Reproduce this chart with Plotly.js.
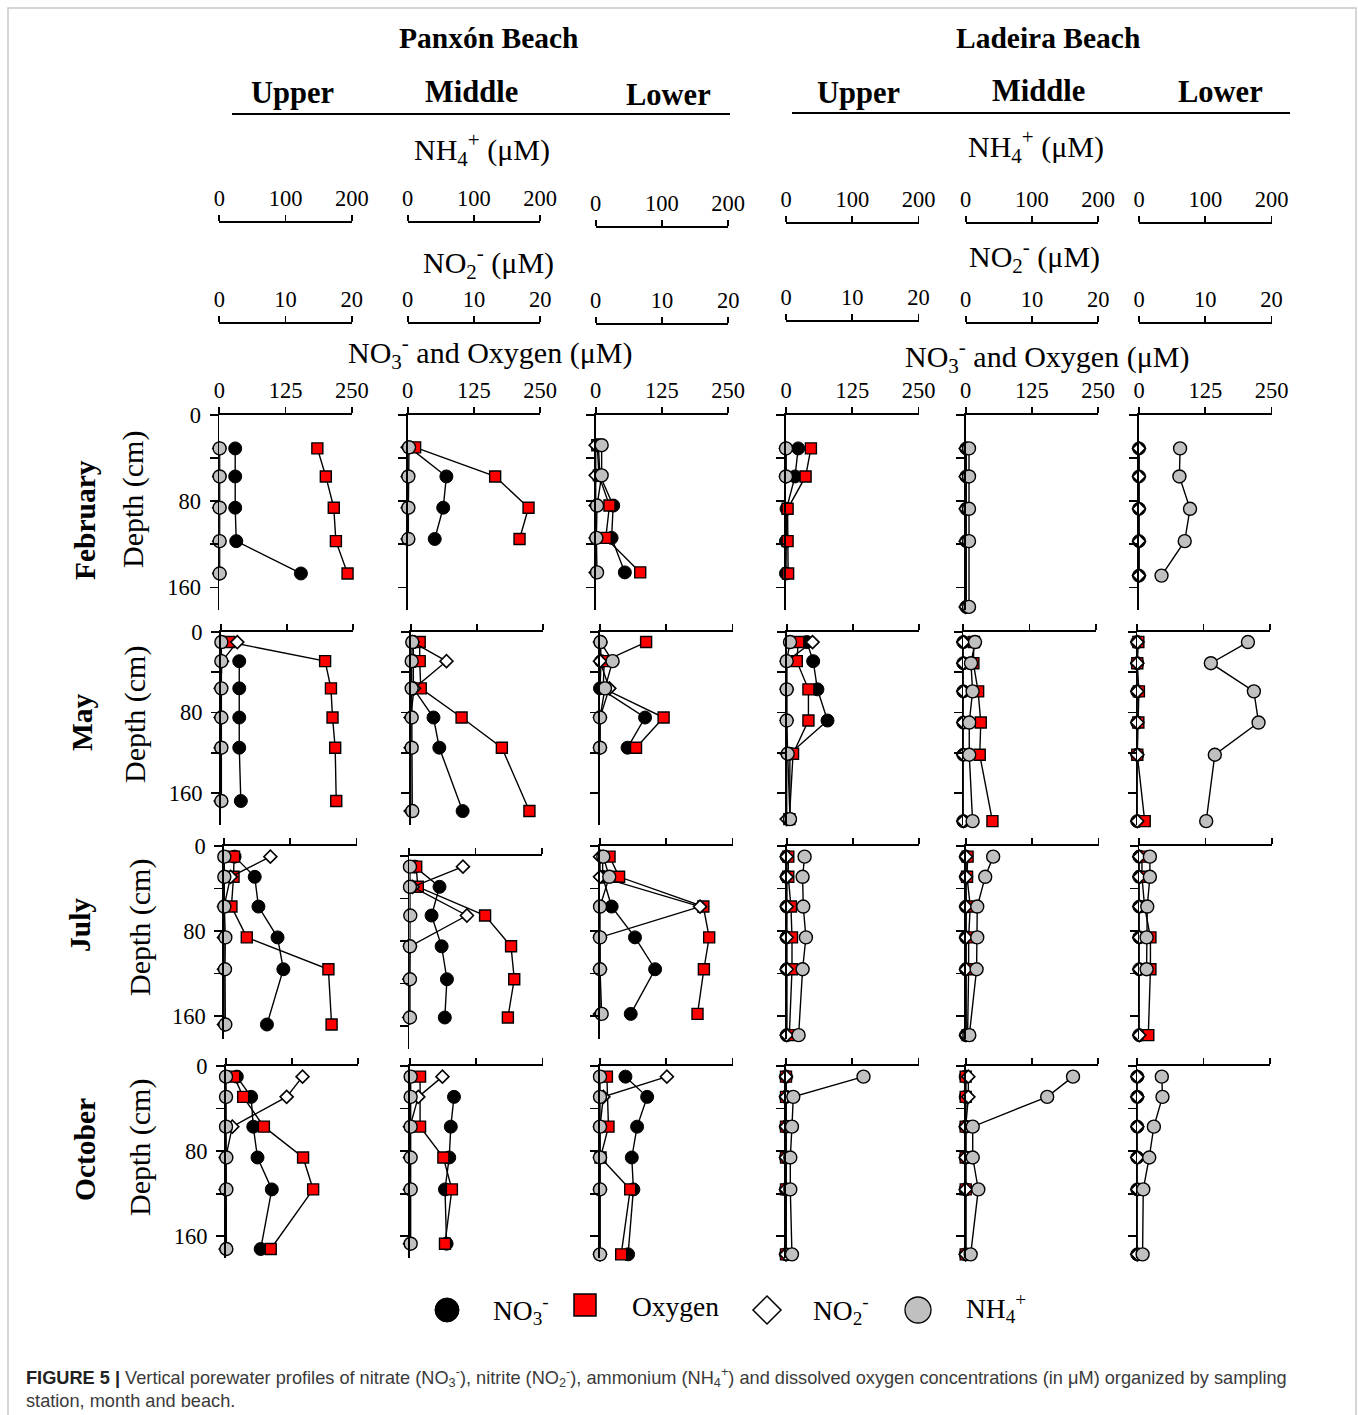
<!DOCTYPE html>
<html><head><meta charset="utf-8">
<script src="https://cdn.plot.ly/plotly-3.0.1.min.js"></script>
<style>body{margin:0;background:#fff}</style>
</head><body><div id="chart" style="width:1358px;height:1415px"></div>
<script>
// ---------- labels ----------
const months = ['February','May','July','October'];
const beaches = ['Panxón Beach','Ladeira Beach'];
const stations = ['Upper','Middle','Lower','Upper','Middle','Lower'];
const no3O2Ticks = [0,125,250];
const nh4Ticks = [0,100,200];
const no2Ticks = [0,10,20];
const depthTicks = [0,80,160];
const depthMinorStep = 40;
const legendNames = ['NO<sub>3</sub><sup>-</sup>','Oxygen','NO<sub>2</sub><sup>-</sup>','NH<sub>4</sub><sup>+</sup>'];

// ---------- data (per month, one list per station: P-Upper, P-Middle, P-Lower, L-Upper, L-Middle, L-Lower) ----------
// February
const febDepth = [[31,57,86,117,147],[30,57,86,115],[28,56,84,114,146],[31,57,87,117,147],[31,57,87,117,178],[31,57,87,117,149]];
const febNO3 = [[30,30,30,32,154],[3,73,67,51],[5,8,33,30,55],[23,17,1,0,0],[1,1,1,1,1],[0,0,0,0,0]];
const febO2  = [[185,201,216,220,242],[14,165,228,211],[3,6,26,19,84],[47,37,3,3,4],[null,null,null,null,null],[null,null,null,null,null]];
const febNO2 = [[0,0,0,0,0],[0,0,0,0],[0,0,0,0,0],[0,0,null,null,null],[0,0,0,0,0],[0,0,0,0,0]];
const febNH4 = [[0.5,0.5,0.5,0.5,0.5],[2,1,1,1],[9,9,2,1,2],[0,0,null,null,null],[5,5,5,5,5],[62,61,77,69,34]];
// May
const mayDepth = [[10,29,56,85,115,168],[10,29,56,85,115,178],[10,29,56,85,115],[10,29,57,88,121,186],[10,31,59,90,122,188],[10,31,59,90,122,188]];
const mayNO3 = [[null,35,35,35,35,38],[5,5,5,43,54,98],[1,2,0,85,52],[38,50,58,77,6,6],[0,0,0,0,0,0],[0,0,0,0,0,0]];
const mayO2  = [[16,197,208,211,216,218],[17,17,19,96,172,224],[87,8,6,120,68],[22,19,41,41,12,5],[20,19,28,33,31,55],[2,0,3,2,0,14]];
const mayNO2 = [[2.5,0.2,0,0,0,0],[0.3,5.4,0.5,0,0,0],[0,0,1.4,0,0],[3.9,0,0,0,0,0],[0,0,0,0,0,0],[0,0,0,0,0,0]];
const mayNH4 = [[1,1,1,1,1,1],[2.4,1.5,1.5,1.5,1.5,2.4],[0.7,19,7.5,0,0],[5,0,0,0,1.5,5],[17.7,11.6,14,9,9,14],[167,111,176,183,117,104]];
// July
const julDepth = [[10,29,57,86,116,168],[10,29,56,85,116,152],[10,29,57,86,116,158],[10,29,57,86,116,178],[10,29,57,86,116,178],[10,29,57,86,116,178]];
const julNO3 = [[20,58,65,101,112,81],[10,57,42,61,71,67],[5,5,22,66,104,58],[0,0,0,0,0,0],[0,0,0,0,0,0],[0,0,0,0,0,0]];
const julO2  = [[19,18,14,43,197,203],[13,16,143,192,198,186],[18,36,195,206,196,184],[3,3,8,10,10,5],[3,2,8,5,5,3],[5,5,10,21,21,17]];
const julNO2 = [[7,1,0,0,0,0],[8.1,0.5,8.7,0.1,0,0],[0,0,15.1,0,0,0],[0,0,0,0,0,0],[0,0,0,0,0,0],[0,0,0,0,0,0]];
const julNH4 = [[0.5,0.5,0.5,2,1.5,2],[1,1,1.5,1,1,1],[5,14,0,0,0,2.5],[27,24,25,29,24,18],[41,29,17,17,16,5],[16,16,12,11,11,null]];
// October
const octDepth = [[10,29,57,86,116,172],[10,29,57,86,116,167],[10,29,57,86,116,177],[10,29,57,86,116,177],[10,29,57,86,116,177],[10,29,57,86,116,177]];
const octNO3 = [[21,48,52,60,87,66],[null,83,77,74,66,69],[48,89,70,60,63,53],[0,0,0,0,0,0],[0,0,0,0,0,0],[0,0,0,0,0,0]];
const octO2  = [[16,33,72,146,165,85],[19,null,19,63,79,66],[13,null,16,1,57,40],[0,0,0,0,0,0],[0,0,0,0,0,0],[null,null,null,null,null,null]];
const octNO2 = [[11.6,9.2,1,0,0,0],[4.9,1.25,0,0,0,0],[10.1,0.5,0,0,0,0],[0,0,0,0,0,0],[0.4,0.4,0,0,0,0],[0,0,0,0,0,0]];
const octNH4 = [[0.5,0.5,0.5,1,1,1],[1,1,1,1,1,1],[0,0,0,0,0,0],[117,11,9,6.5,6.5,9],[162,123,10.6,10.6,19,7.5],[37,38,25,18,9,8]];

// ---------- geometry ----------
const W = 1358, H = 1415;
const fx = x => x / W;
const fy = y => 1 - y / H;
const SERIF = 'Liberation Serif, Times New Roman, serif';
const SANS = 'Liberation Sans, Arial, sans-serif';
const PANEL_W = 132.5;
const colX0 = [
  [219.3, 407.7, 595.7, 786, 965.7, 1139],
  [220.7, 410.7, 600, 786.7, 963.3, 1137.3],
  [224, 409.3, 600, 786.7, 966, 1139.3],
  [225.7, 410, 600, 786, 965.7, 1137.3]
];
const rowTop = [415, 632, 846, 1066];
const rowScale = [1.078, 1.006, 1.0625, 1.064];
const rowRange = [181, 192, 182, 180];
const panelShift = {'2,1': 10};
const nh4LineY = [221,221,226,222,222,222];
const no2LineY = [322,322,323,320,322,322];

const monthDepth = [febDepth, mayDepth, julDepth, octDepth];
const monthNO3 = [febNO3, mayNO3, julNO3, octNO3];
const monthO2 = [febO2, mayO2, julO2, octO2];
const monthNO2 = [febNO2, mayNO2, julNO2, octNO2];
const monthNH4 = [febNH4, mayNH4, julNH4, octNH4];

const axId = n => n === 1 ? '' : String(n);
const layout = {
  width: W, height: H, margin: {l:0, r:0, t:0, b:0},
  paper_bgcolor: 'white', plot_bgcolor: 'rgba(0,0,0,0)',
  showlegend: false, annotations: [], shapes: [],
  font: {family: SERIF, size: 22, color: 'black'}
};
const traces = [];
const tickFont = {family: SERIF, size: 22.5, color: 'black'};
const common = {showline:true, linecolor:'black', linewidth:1.8, ticks:'outside', tickcolor:'black',
  tickwidth:1.8, showgrid:false, zeroline:false, fixedrange:true, tickfont:tickFont, automargin:false};

const mk = {
  no3: {symbol:'circle', size:13, color:'black', line:{color:'black', width:1}},
  o2:  {symbol:'square', size:11, color:'#ff0000', line:{color:'black', width:1.4}},
  no2: {symbol:'diamond', size:10, color:'white', line:{color:'black', width:1.6}},
  nh4: {symbol:'circle', size:13, color:'#c0c0c0', line:{color:'black', width:1.4}}
};
const lineStyle = {color:'black', width:1.4};

for (let r = 0; r < 4; r++) {
  for (let c = 0; c < 6; c++) {
    const k = r*6 + c + 1;
    const x0 = colX0[r][c];
    const top = rowTop[r] + (panelShift[r+','+c] || 0);
    const bottom = top + rowRange[r]*rowScale[r];
    const xd = [fx(x0), fx(x0 + PANEL_W)];
    const yd = [fy(bottom), fy(top)];
    const xid = 'x' + axId(k), yid = 'y' + axId(k);
    layout['xaxis' + axId(k)] = Object.assign({}, common, {
      domain: xd, anchor: yid, side: 'top', range: [0, 250], tickmode: 'array',
      tickvals: no3O2Ticks, ticktext: no3O2Ticks.map(String), ticklen: 6, showticklabels: r === 0
    });
    layout['yaxis' + axId(k)] = Object.assign({}, common, {
      domain: yd, anchor: xid, side: 'left', range: [rowRange[r], 0], tickmode: 'array',
      tickvals: depthTicks, ticktext: depthTicks.map(String), ticklen: 8, showticklabels: c === 0, ticklabelstandoff: 4,
      minor: {tick0: 0, dtick: depthMinorStep, ticks: 'outside', ticklen: 8, tickwidth: 1.8, tickcolor: 'black', showgrid: false}
    });
    const kNO2 = 24 + k, kNH4 = 48 + k;
    const ov = (rng, tv, lineY) => r === 0 ?
      Object.assign({}, common, {domain: xd, overlaying: xid, anchor: 'free', position: fy(lineY), side: 'top',
        range: rng, tickmode: 'array', tickvals: tv, ticktext: tv.map(String), ticklen: 6, showticklabels: true}) :
      {domain: xd, overlaying: xid, anchor: yid, range: rng, visible: false, fixedrange: true};
    layout['xaxis' + kNO2] = ov([0, 20], no2Ticks, no2LineY[c]);
    layout['xaxis' + kNH4] = ov([0, 200], nh4Ticks, nh4LineY[c]);

    const d = monthDepth[r][c];
    const base = {type:'scatter', mode:'lines+markers', y: d, yaxis: yid, line: lineStyle,
      cliponaxis: false, connectgaps: true, hoverinfo: 'skip'};
    traces.push(Object.assign({}, base, {x: monthNO3[r][c], xaxis: xid, marker: mk.no3}));
    traces.push(Object.assign({}, base, {x: monthO2[r][c], xaxis: xid, marker: mk.o2}));
    traces.push(Object.assign({}, base, {x: monthNO2[r][c], xaxis: 'x' + kNO2, marker: mk.no2}));
    traces.push(Object.assign({}, base, {x: monthNH4[r][c], xaxis: 'x' + kNH4, marker: mk.nh4}));
  }
}

// ---------- text ----------
function ann(x, y, text, size, opts) {
  layout.annotations.push(Object.assign({xref:'paper', yref:'paper', x: fx(x), y: fy(y), text: text,
    showarrow:false, xanchor:'center', yanchor:'middle', font:{family:SERIF, size:size, color:'black'}}, opts || {}));
}
ann(488, 38, '<b>' + beaches[0] + '</b>', 29.5);
ann(1048, 38, '<b>' + beaches[1] + '</b>', 29.5);
const stPos = [[292,93],[471,92],[668,95],[858,93],[1038,91],[1220,92]];
stations.forEach((s, i) => ann(stPos[i][0], stPos[i][1], '<b>' + s + '</b>', 30.5));
layout.shapes.push({type:'line', xref:'paper', yref:'paper', x0:fx(232), x1:fx(730), y0:fy(114), y1:fy(114), line:{color:'black', width:2}});
layout.shapes.push({type:'line', xref:'paper', yref:'paper', x0:fx(792), x1:fx(1290), y0:fy(113), y1:fy(113), line:{color:'black', width:2}});

ann(482, 150, 'NH<sub>4</sub><sup>+</sup> (μM)', 30);
ann(1036, 147, 'NH<sub>4</sub><sup>+</sup> (μM)', 30);
ann(488, 263, 'NO<sub>2</sub><sup>-</sup> (μM)', 30);
ann(1034, 256, 'NO<sub>2</sub><sup>-</sup> (μM)', 30);
ann(490, 352, 'NO<sub>3</sub><sup>-</sup> and Oxygen (μM)', 30);
ann(1047, 357, 'NO<sub>3</sub><sup>-</sup> and Oxygen (μM)', 30);

const monthPos = [[85,520],[82,722],[80,925],[85,1150]];
const depthPos = [[133,500],[135,715],[140,928],[140,1148]];
months.forEach((m, i) => {
  ann(monthPos[i][0], monthPos[i][1], '<b>' + m + '</b>', 29.5, {textangle: -90});
  ann(depthPos[i][0], depthPos[i][1], 'Depth (cm)', 30, {textangle: -90});
});

// ---------- legend ----------
layout.shapes.push({type:'circle', xref:'paper', yref:'paper', x0:fx(435), x1:fx(459), y0:fy(1322), y1:fy(1298), fillcolor:'black', line:{color:'black', width:1}});
layout.shapes.push({type:'rect', xref:'paper', yref:'paper', x0:fx(574), x1:fx(596), y0:fy(1316), y1:fy(1294), fillcolor:'#ff0000', line:{color:'black', width:1.5}});
layout.shapes.push({type:'path', xref:'paper', yref:'paper',
  path: 'M' + fx(767) + ',' + fy(1296) + ' L' + fx(781) + ',' + fy(1310) + ' L' + fx(767) + ',' + fy(1324) + ' L' + fx(753) + ',' + fy(1310) + ' Z',
  fillcolor:'white', line:{color:'black', width:1.5}});
layout.shapes.push({type:'circle', xref:'paper', yref:'paper', x0:fx(905), x1:fx(931), y0:fy(1323), y1:fy(1297), fillcolor:'#c0c0c0', line:{color:'black', width:1.3}});
const legPos = [[521,1310],[675,1306],[841,1310],[996,1308]];
legendNames.forEach((t, i) => ann(legPos[i][0], legPos[i][1], t, 27.5));

// ---------- caption & frame ----------
layout.annotations.push({xref:'paper', yref:'paper', x: fx(24), y: fy(1362), xanchor:'left', yanchor:'top', align:'left', showarrow:false,
  font:{family:SANS, size:18.2, color:'#3a3a3a'},
  text:'<b style="color:#222">FIGURE 5 |</b> Vertical porewater profiles of nitrate (NO<sub>3</sub><sup>-</sup>), nitrite (NO<sub>2</sub><sup>-</sup>), ammonium (NH<sub>4</sub><sup>+</sup>) and dissolved oxygen concentrations (in μM) organized by sampling<br>station, month and beach.'});
layout.shapes.push({type:'rect', xref:'paper', yref:'paper', x0:fx(8), x1:fx(1356), y0:fy(1430), y1:fy(8), line:{color:'#c8c8c8', width:1.5}, fillcolor:'rgba(0,0,0,0)'});

Plotly.newPlot('chart', traces, layout, {staticPlot:true, displayModeBar:false});
</script>
</body></html>
